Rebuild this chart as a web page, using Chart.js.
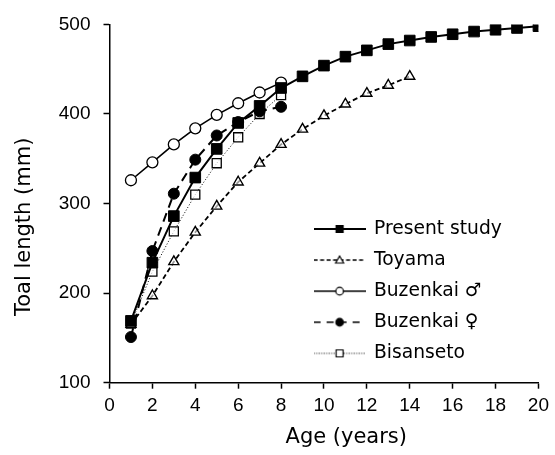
<!DOCTYPE html>
<html>
<head>
<meta charset="utf-8">
<script src="https://cdn.jsdelivr.net/npm/chart.js@4.4.1/dist/chart.umd.min.js"></script>
<style>
    html, body { margin: 0; padding: 0; background: #fff; }
    #wrap { width: 555px; height: 455px; }
</style>
</head>
<body>
<div id="wrap"><canvas id="growth" width="555" height="455"></canvas></div>
<script>
// values (total length in mm by age in years)
let present_age = [1, 2, 3, 4, 5, 6, 7, 8, 9, 10, 11, 12, 13, 14, 15, 16, 17, 18, 19, 20];
let present_len = [169, 234, 286, 329, 361, 390, 409, 429, 442, 454, 464, 471, 478, 482, 486, 489, 492, 494, 496, 498];

let toyama_age = [1, 2, 3, 4, 5, 6, 7, 8, 9, 10, 11, 12, 13, 14];
let toyama_len = [165, 197, 235, 268, 297, 324, 345, 366, 383, 398, 411, 423, 432, 442];

let buzen_age = [1, 2, 3, 4, 5, 6, 7, 8];
let buzen_male = [326, 346, 366, 384, 399, 412, 424, 435];
let buzen_female = [151, 247, 311, 349, 376, 391, 403, 408];

let bisan_age = [1, 2, 3, 4, 5, 6, 7, 8];
let bisan_len = [166, 224, 269, 310, 345, 374, 400, 421];

let series_names = ['Present study', 'Toyama', 'Buzenkai \u2642', 'Buzenkai \u2640', 'Bisanseto'];

let x_ticks = [0, 2, 4, 6, 8, 10, 12, 14, 16, 18, 20];
let y_ticks = [100, 200, 300, 400, 500];

let x_title = 'Age (years)';
let y_title = 'Toal length (mm)';

function pairs(xs, ys) {
    return xs.map((x, i) => ({x: x, y: ys[i]}));
}

// small canvas used as legend symbol: line segment with the marker in the middle
function legendIcon(dash, lineWidth, marker, filled) {
    let c = document.createElement('canvas');
    c.width = 52;
    c.height = 14;
    let ctx = c.getContext('2d');
    ctx.strokeStyle = '#000';
    ctx.lineWidth = lineWidth;
    ctx.setLineDash(dash);
    ctx.beginPath();
    ctx.moveTo(0, 7);
    ctx.lineTo(52, 7);
    ctx.stroke();
    ctx.setLineDash([]);
    ctx.lineWidth = 1.2;
    ctx.fillStyle = filled ? '#000' : '#fff';
    ctx.beginPath();
    if (marker === 'rect') {
        ctx.rect(22.5, 3.5, 7, 7);
    } else if (marker === 'circle') {
        ctx.arc(26, 7, 3.8, 0, Math.PI * 2);
    } else if (marker === 'triangle') {
        ctx.moveTo(26, 3);
        ctx.lineTo(30, 10);
        ctx.lineTo(22, 10);
        ctx.closePath();
    }
    ctx.fill();
    ctx.stroke();
    return c;
}

let icons = [
    legendIcon([], 2, 'rect', true),
    legendIcon([4, 2.5], 1.4, 'triangle', false),
    legendIcon([], 1.5, 'circle', false),
    legendIcon([7, 6], 1.6, 'circle', true),
    legendIcon([1, 1.5], 1, 'rect', false)
];

// put the legend inside the plot, lower right
let legendPlace = {
    id: 'legendPlace',
    beforeDraw(chart) {
        let lg = chart.legend;
        lg.left = 302.2;
        lg.right = lg.left + lg.width;
        lg.top = 207.2;
        lg.bottom = chart.height;
    }
};

let axisTitles = {
    id: 'axisTitles',
    afterDraw(chart) {
        let ctx = chart.ctx;
        let area = chart.chartArea;
        ctx.save();
        ctx.fillStyle = '#000';
        ctx.font = '21px "DejaVu Sans"';
        ctx.textAlign = 'center';
        ctx.textBaseline = 'middle';
        ctx.fillText(x_title, area.left + area.width * 0.552, 438);
        ctx.translate(25, area.top + area.height * 0.565);
        ctx.rotate(-Math.PI / 2);
        ctx.fillText(y_title, 0, 0);
        ctx.restore();
    }
};

let tickFont = {family: '"Liberation Sans", Arial, sans-serif', size: 19};

let data = {
    datasets: [
        {
            label: series_names[0],
            data: pairs(present_age, present_len),
            borderColor: '#000',
            borderWidth: 2,
            pointStyle: 'rect',
            pointRadius: 7.5,
            pointBackgroundColor: '#000',
            pointBorderColor: '#000',
            pointBorderWidth: 1
        },
        {
            label: series_names[1],
            data: pairs(toyama_age, toyama_len),
            borderColor: '#000',
            borderWidth: 1.8,
            borderDash: [5, 3],
            pointStyle: 'triangle',
            pointRadius: 5.8,
            pointBackgroundColor: 'rgba(255,255,255,0.6)',
            pointBorderColor: '#000',
            pointBorderWidth: 1.4
        },
        {
            label: series_names[2],
            data: pairs(buzen_age, buzen_male),
            borderColor: '#000',
            borderWidth: 1.6,
            pointStyle: 'circle',
            pointRadius: 5.5,
            pointBackgroundColor: '#fff',
            pointBorderColor: '#000',
            pointBorderWidth: 1.3
        },
        {
            label: series_names[3],
            data: pairs(buzen_age, buzen_female),
            borderColor: '#000',
            borderWidth: 2,
            borderDash: [9, 6],
            pointStyle: 'circle',
            pointRadius: 5.5,
            pointBackgroundColor: '#000',
            pointBorderColor: '#000',
            pointBorderWidth: 1
        },
        {
            label: series_names[4],
            data: pairs(bisan_age, bisan_len),
            borderColor: '#000',
            borderWidth: 1,
            borderDash: [1, 2],
            pointStyle: 'rect',
            pointRadius: 6.4,
            pointBackgroundColor: 'rgba(255,255,255,0.7)',
            pointBorderColor: '#000',
            pointBorderWidth: 1.3
        }
    ]
};

new Chart(document.getElementById('growth'), {
    type: 'line',
    data: data,
    plugins: [legendPlace, axisTitles],
    options: {
        responsive: false,
        animation: false,
        devicePixelRatio: 1,
        layout: {
            padding: {left: 0, right: 13.3, top: 23.3, bottom: 0}
        },
        elements: {
            line: {tension: 0, fill: false}
        },
        scales: {
            x: {
                type: 'linear',
                min: 0,
                max: 20,
                afterBuildTicks: (scale) => { scale.ticks = x_ticks.map(v => ({value: v})); },
                afterFit: (scale) => { scale.height = 72.3; },
                border: {display: true, color: '#000', width: 1.5},
                grid: {drawOnChartArea: false, tickLength: 6, tickColor: '#000', tickWidth: 1.5},
                ticks: {color: '#000', font: tickFont, padding: 6, maxRotation: 0, autoSkip: false}
            },
            y: {
                type: 'linear',
                min: 100,
                max: 500,
                afterBuildTicks: (scale) => { scale.ticks = y_ticks.map(v => ({value: v})); },
                afterFit: (scale) => { scale.width = 109.5; },
                border: {display: true, color: '#000', width: 1.5},
                grid: {drawOnChartArea: false, tickLength: 6, tickColor: '#000', tickWidth: 1.5},
                ticks: {color: '#000', font: tickFont, padding: 13}
            }
        },
        plugins: {
            tooltip: {enabled: false},
            legend: {
                position: 'chartArea',
                align: 'start',
                labels: {
                    usePointStyle: true,
                    pointStyleWidth: 50,
                    padding: 12.4,
                    color: '#000',
                    font: {family: '"DejaVu Sans"', size: 18.7},
                    generateLabels: (chart) => series_names.map((name, i) => ({
                        text: name,
                        pointStyle: icons[i],
                        fillStyle: '#000',
                        strokeStyle: '#000',
                        lineWidth: 0,
                        hidden: false,
                        datasetIndex: i
                    }))
                }
            }
        }
    }
});
</script>
</body>
</html>
